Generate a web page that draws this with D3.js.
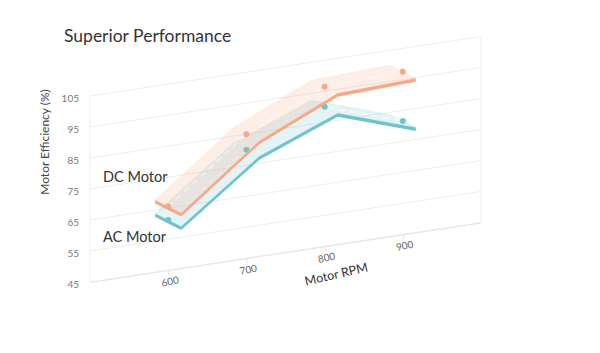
<!DOCTYPE html>
<html>
<head>
<meta charset="utf-8">
<script src="https://cdn.jsdelivr.net/npm/d3@7"></script>
<style>
  html, body { margin: 0; padding: 0; background: #fff; }
  svg { display: block; font-family: Lato, "Noto Sans", sans-serif; }
</style>
</head>
<body>
<svg id="chart" width="600" height="353"></svg>
<script>
// values
const rpm = [600, 700, 800, 900];
const dcEfficiency = [65.5, 85, 96.5, 97.5];
const acEfficiency = [61.2, 80, 90, 81.6];
const yTicks = [45, 55, 65, 75, 85, 95, 105];
const xTicks = [600, 700, 800, 900];
const seriesNames = ['DC Motor', 'AC Motor'];

const COLORS = {
  dc: { line: '#f6a887', face: 'rgba(246,168,134,0.2)', dot: '#f5a98b' },
  ac: { line: '#6fc4ca', face: 'rgba(118,197,204,0.2)', dot: '#6fc3c9' },
};

// plane of the chart, seen slightly from the side
const origin = { x: 90, y: 96 };
const plane = { width: 391, height: 186 };
const SHEAR = -0.152;
const DEPTH = [13, 6.5];
const THICK = 3.5;

const x = d3.scaleLinear().domain([500, 1000]).range([0, plane.width]);
const y = d3.scaleLinear().domain([45, 105]).range([plane.height, 0]);

const proj = (r, v) => [origin.x + x(r), origin.y + y(v) + SHEAR * x(r)];

const svg = d3.select('#chart');

svg.append('text')
  .attr('x', 64)
  .attr('y', 42)
  .attr('font-size', 17.5)
  .attr('fill', '#333')
  .text('Superior Performance');

const g = svg.append('g')
  .attr('transform', `translate(${origin.x},${origin.y}) matrix(1,${SHEAR},0,1,0,0)`);

// grid
g.append('g').selectAll('line')
  .data(yTicks)
  .join('line')
  .attr('x1', 0)
  .attr('x2', plane.width)
  .attr('y1', (d) => y(d))
  .attr('y2', (d) => y(d))
  .attr('stroke', '#ededed');

g.append('g').selectAll('line')
  .data([0, plane.width])
  .join('line')
  .attr('x1', (d) => d)
  .attr('x2', (d) => d)
  .attr('y1', 0)
  .attr('y2', plane.height)
  .attr('stroke', '#ededed');

const unshear = `matrix(1,${-SHEAR},0,1,0,0)`;

const yAxis = g.append('g')
  .call(d3.axisLeft(y).tickValues(yTicks).tickSize(0).tickPadding(0));
yAxis.select('.domain').remove();
yAxis.selectAll('text')
  .attr('x', null)
  .attr('dy', '0.35em')
  .attr('transform', `translate(-11,0) ${unshear}`)
  .attr('font-family', 'Lato, "Noto Sans", sans-serif')
  .attr('font-size', 10)
  .attr('fill', '#777');

const xAxis = g.append('g')
  .attr('transform', `translate(0,${plane.height})`)
  .call(d3.axisBottom(x).tickValues(xTicks).tickSize(5).tickPadding(0).tickSizeOuter(0));
xAxis.select('.domain').attr('stroke', '#e6e6e6');
xAxis.selectAll('.tick line').attr('stroke', '#e0e0e0');
xAxis.selectAll('text')
  .attr('y', null)
  .attr('dy', null)
  .attr('transform', `${unshear} rotate(-12) translate(-1,15)`)
  .attr('font-family', 'Lato, "Noto Sans", sans-serif')
  .attr('font-size', 10)
  .attr('fill', '#666');

const xTitleAt = proj(816, 45);
svg.append('text')
  .attr('transform', `translate(${xTitleAt[0]},${xTitleAt[1] + 34}) rotate(-13)`)
  .attr('text-anchor', 'middle')
  .attr('font-size', 12.5)
  .attr('fill', '#333')
  .text('Motor RPM');

svg.append('text')
  .attr('transform', 'translate(49,142) rotate(-90)')
  .attr('text-anchor', 'middle')
  .attr('font-size', 12)
  .attr('fill', '#444')
  .text('Motor Efficiency (%)');

// ribbons
const shift = (p, dx, dy) => [p[0] + dx, p[1] + dy];
const poly = (pts) => `M${pts.map((p) => p.join(',')).join('L')}Z`;

function drawRibbon(values, color) {
  const pts = rpm.map((r, i) => proj(r, values[i]));
  const back = pts.map((p) => shift(p, -DEPTH[0], -DEPTH[1]));
  const front = pts.map((p) => shift(p, DEPTH[0], DEPTH[1]));
  const layer = svg.append('g');

  layer.append('path')
    .attr('d', poly([...back, ...front.slice().reverse()]))
    .attr('fill', color.face)
    .attr('stroke', color.line)
    .attr('stroke-opacity', 0.12);

  layer.append('path')
    .attr('d', poly([back[0], front[0], shift(front[0], 0, THICK), shift(back[0], 0, THICK)]))
    .attr('fill', color.line);

  layer.append('path')
    .attr('d', poly([...front, ...front.slice().reverse().map((p) => shift(p, 0, THICK))]))
    .attr('fill', color.line);

  layer.append('path')
    .attr('d', d3.line()(pts))
    .attr('fill', 'none')
    .attr('stroke', '#fff')
    .attr('stroke-opacity', 0.55)
    .attr('stroke-width', 1.5)
    .attr('stroke-dasharray', '6 5');

  layer.selectAll('circle')
    .data(pts)
    .join('circle')
    .attr('cx', (d) => d[0])
    .attr('cy', (d) => d[1])
    .attr('r', 3)
    .attr('fill', color.dot);
}

drawRibbon(acEfficiency, COLORS.ac);
drawRibbon(dcEfficiency, COLORS.dc);

svg.append('text')
  .attr('x', 103)
  .attr('y', 182)
  .attr('font-size', 14.5)
  .attr('fill', '#333')
  .text(seriesNames[0]);

svg.append('text')
  .attr('x', 103)
  .attr('y', 242)
  .attr('font-size', 14.5)
  .attr('fill', '#333')
  .text(seriesNames[1]);
</script>
</body>
</html>
